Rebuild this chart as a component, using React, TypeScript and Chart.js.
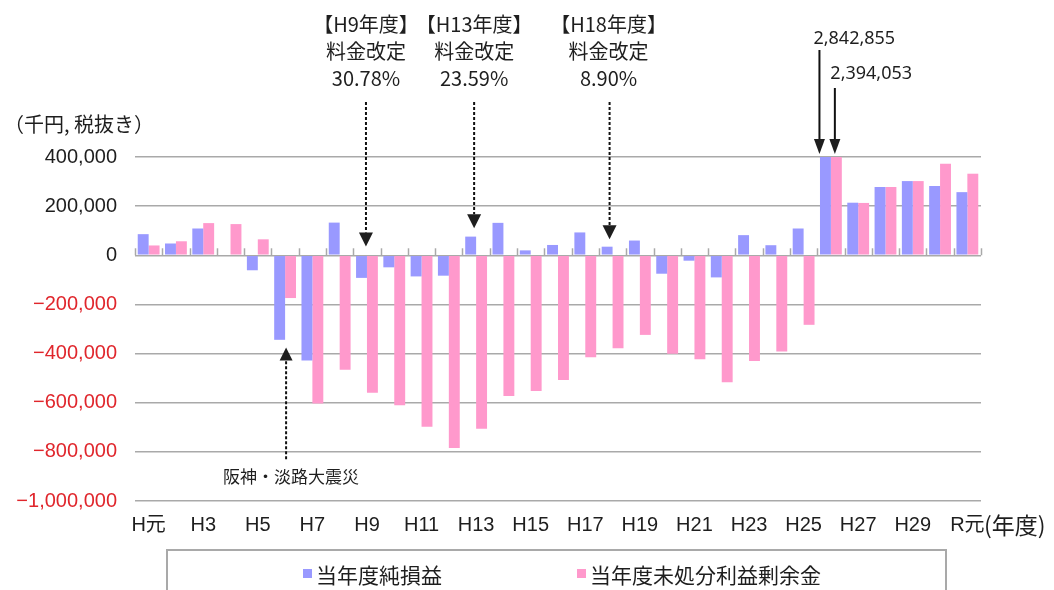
import React, { useEffect, useRef } from 'react';
import { Chart, registerables } from 'chart.js';

Chart.register(...registerables);

// ---- data ----
const categories = [
  'H元', 'H2', 'H3', 'H4', 'H5', 'H6', 'H7', 'H8', 'H9', 'H10',
  'H11', 'H12', 'H13', 'H14', 'H15', 'H16', 'H17', 'H18', 'H19', 'H20',
  'H21', 'H22', 'H23', 'H24', 'H25', 'H26', 'H27', 'H28', 'H29', 'H30', 'R元',
];

// 当年度純損益 (千円)
const netIncome = [
  86000, 48000, 109000, -3000, -61000, -344000, -428000, 133000, -92000, -49000,
  -86000, -83000, 76000, 132000, 20000, 42000, 93000, 35000, 60000, -75000,
  -22000, -90000, 82000, 41000, 109000, 2842855, 214000, 278000, 302000, 282000, 257000,
];

// 当年度未処分利益剰余金 (千円)
const retainedEarnings = [
  40000, 57000, 131000, 127000, 65000, -174000, -603000, -466000, -559000, -610000,
  -698000, -784000, -706000, -573000, -552000, -508000, -415000, -378000, -324000, -401000,
  -423000, -517000, -430000, -392000, -283000, 2394053, 213000, 278000, 302000, 373000, 332000,
];

const seriesNames = ['当年度純損益', '当年度未処分利益剰余金'];
const yMin = -1000000;
const yMax = 400000;
const yStep = 200000;

const rateRevisions = [
  { index: 8, lines: ['【H9年度】', '料金改定', '30.78%'] },
  { index: 12, lines: ['【H13年度】', '料金改定', '23.59%'] },
  { index: 17, lines: ['【H18年度】', '料金改定', '8.90%'] },
];
const quakeIndex = 5;
const quakeLabel = '阪神・淡路大震災';
const clippedIndex = 25;

// ---- styles ----
const BLUE = '#9999FF';
const PINK = '#FF99CC';
const GRID = '#a9a9a9';
const RED = '#e0262c';
const INK = '#1e1e1e';
const CJK = '"Noto Sans CJK JP", "Noto Sans", sans-serif';
const LATIN = '"Liberation Sans", "Noto Sans CJK JP", sans-serif';

function fmt(v: number): string {
  const s = Math.abs(v).toLocaleString('en-US');
  return v < 0 ? '\u2212' + s : s;
}

function drawArrow(ctx: CanvasRenderingContext2D, x: number, yTail: number, yTip: number, dashed: boolean, headW: number, headH: number) {
  const dir = Math.sign(yTip - yTail);
  const yBase = yTip - dir * headH;
  ctx.beginPath();
  ctx.setLineDash(dashed ? [3, 2] : []);
  ctx.lineWidth = 2;
  ctx.moveTo(x, yTail);
  ctx.lineTo(x, yBase);
  ctx.stroke();
  ctx.setLineDash([]);
  ctx.beginPath();
  ctx.moveTo(x - headW / 2, yBase);
  ctx.lineTo(x + headW / 2, yBase);
  ctx.lineTo(x, yTip);
  ctx.closePath();
  ctx.fill();
}

const annotationPlugin = {
  id: 'customAnnotations',
  afterDatasetsDraw(chart: any) {
    const { ctx, chartArea, scales } = chart;
    const xs = scales.x;
    const ys = scales.y;
    const top = chartArea.top;
    ctx.save();

    // small category separators on the zero line
    const zeroY = ys.getPixelForValue(0);
    const n = categories.length;
    const cw = (chartArea.right - chartArea.left) / n;
    ctx.strokeStyle = GRID;
    ctx.lineWidth = 1.5;
    for (let i = 0; i <= n; i++) {
      const px = Math.round(chartArea.left + i * cw) + 0.5;
      ctx.beginPath();
      ctx.moveTo(px, zeroY);
      ctx.lineTo(px, zeroY - 7);
      ctx.stroke();
    }

    ctx.fillStyle = INK;
    ctx.strokeStyle = '#111';

    // rate revision notes
    const tipVals = [36000, 110000, 65000];
    const dxs = [-1, -2, -3];
    rateRevisions.forEach((r, k) => {
      const cx = xs.getPixelForValue(r.index) + dxs[k];
      ctx.font = `20px ${CJK}`;
      ctx.textAlign = 'center';
      ctx.textBaseline = 'middle';
      r.lines.forEach((t, li) => {
        ctx.fillText(t, cx + (k === 2 ? -1 : 0), top - 133 + li * 27);
      });
      drawArrow(ctx, cx, top - 55, ys.getPixelForValue(tipVals[k]), true, 14, 14);
    });

    // earthquake note
    const qx = xs.getPixelForValue(quakeIndex) + 1;
    drawArrow(ctx, qx, ys.getPixelForValue(-830000), ys.getPixelForValue(-375000), true, 13, 13);
    ctx.font = `17px ${CJK}`;
    ctx.textAlign = 'center';
    ctx.textBaseline = 'middle';
    ctx.fillText(quakeLabel, qx + 5, ys.getPixelForValue(-900000));

    // clipped values
    const b = chart.getDatasetMeta(0).data[clippedIndex];
    const p = chart.getDatasetMeta(1).data[clippedIndex];
    ctx.font = `18px "Noto Sans", ${CJK}`;
    ctx.textAlign = 'left';
    ctx.fillText(fmt(netIncome[clippedIndex]), b.x - 12, top - 118);
    ctx.fillText(fmt(retainedEarnings[clippedIndex]), p.x - 6, top - 83);
    drawArrow(ctx, b.x - 6, top - 107, top - 3, false, 11, 15);
    drawArrow(ctx, p.x - 1.5, top - 69, top - 3, false, 11, 15);

    // axis titles
    ctx.font = `20px ${CJK}`;
    ctx.textAlign = 'left';
    ctx.textBaseline = 'middle';
    ctx.fillText('（千円, 税抜き）', 4, top - 33);
    ctx.font = `23px ${CJK}`;
    ctx.fillText('(年度)', chartArea.right + 3, chartArea.bottom + 24);

    ctx.restore();
  },
};

export default function App() {
  const canvasRef = useRef<HTMLCanvasElement | null>(null);

  useEffect(() => {
    if (!canvasRef.current) return;
    const chart = new Chart(canvasRef.current, {
      type: 'bar',
      data: {
        labels: categories,
        datasets: [
          {
            label: seriesNames[0],
            data: netIncome,
            backgroundColor: BLUE,
            borderWidth: 0,
            categoryPercentage: 0.8,
            barPercentage: 1.0,
          },
          {
            label: seriesNames[1],
            data: retainedEarnings,
            backgroundColor: PINK,
            borderWidth: 0,
            categoryPercentage: 0.8,
            barPercentage: 1.0,
          },
        ],
      },
      options: {
        animation: false,
        responsive: true,
        maintainAspectRatio: false,
        layout: { padding: { top: 157, right: 73, bottom: 0, left: 0 } },
        plugins: {
          legend: { display: false },
          tooltip: { enabled: false },
        },
        scales: {
          x: {
            grid: { display: false, drawTicks: false },
            border: { display: false },
            ticks: {
              autoSkip: false,
              maxRotation: 0,
              minRotation: 0,
              padding: 12,
              color: INK,
              font: { family: LATIN, size: 20 },
              callback: (_v: any, i: number) => (i % 2 === 0 ? categories[i] : ''),
            },
            afterFit: (scale: any) => {
              scale.height = 89;
            },
          },
          y: {
            min: yMin,
            max: yMax,
            grid: { color: GRID, lineWidth: 1.5, drawTicks: false },
            border: { display: false },
            ticks: {
              stepSize: yStep,
              padding: 18,
              color: (c: any) => (c.tick && c.tick.value < 0 ? RED : INK),
              font: { family: LATIN, size: 20 },
              callback: (v: any) => fmt(Number(v)),
            },
            afterFit: (scale: any) => {
              scale.width = 135;
            },
          },
        },
      },
      plugins: [annotationPlugin],
    });
    return () => chart.destroy();
  }, []);

  const legendText: React.CSSProperties = {
    position: 'absolute',
    top: 561,
    fontFamily: CJK,
    fontSize: 21,
    lineHeight: '26px',
    color: INK,
    whiteSpace: 'nowrap',
  };
  const swatch: React.CSSProperties = { position: 'absolute', top: 569, width: 9, height: 9 };

  return (
    <div style={{ position: 'absolute', left: 0, top: 0, width: 1054, height: 590, background: '#fff', overflow: 'hidden' }}>
      <canvas ref={canvasRef} />
      <div
        style={{
          position: 'absolute',
          left: 166,
          top: 549,
          width: 781,
          height: 60,
          border: `2px solid ${GRID}`,
          boxSizing: 'border-box',
        }}
      />
      <div style={{ ...swatch, left: 303, background: BLUE }} />
      <div style={{ ...legendText, left: 316 }}>{seriesNames[0]}</div>
      <div style={{ ...swatch, left: 577, background: PINK }} />
      <div style={{ ...legendText, left: 590 }}>{seriesNames[1]}</div>
    </div>
  );
}
